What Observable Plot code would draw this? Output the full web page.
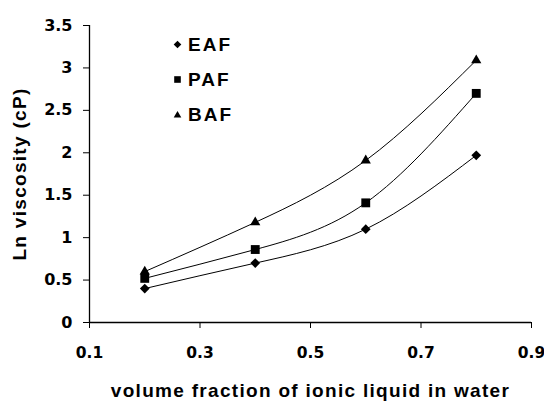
<!DOCTYPE html>
<html><head><meta charset="utf-8">
<script src="https://cdn.jsdelivr.net/npm/d3@7"></script>
<script src="https://cdn.jsdelivr.net/npm/@observablehq/plot@0.6"></script>
<style>
body{margin:0;background:#fff}
#wrap{position:relative;width:544px;height:401px;font-family:"Liberation Sans",Arial,sans-serif;font-weight:bold;color:#000}
#wrap svg text{font-weight:bold}
#wrap g[aria-label="y-axis tick label"]{font-family:"DejaVu Sans",sans-serif;font-size:16px}
#wrap g[aria-label="y-axis tick label"] text{font-family:"DejaVu Sans",sans-serif;font-size:16px;letter-spacing:0}
#wrap g[aria-label="x-axis tick label"]{font-family:"DejaVu Sans",sans-serif;font-size:15.5px}
#wrap g[aria-label="x-axis tick label"] text{font-family:"DejaVu Sans",sans-serif;font-size:15.5px;letter-spacing:0}
#wrap g[aria-label="x-axis label"] text, #wrap g[aria-label="y-axis label"] text{font-size:19px;letter-spacing:1.3px}
.leg{position:absolute;left:173px;font-size:19px;line-height:19px;letter-spacing:2px;display:flex;align-items:center}
.leg svg{margin-right:6px}
</style>
</head><body><div id="wrap"></div>
<script>
const fractions = [0.2, 0.4, 0.6, 0.8];
const eaf = [0.40, 0.70, 1.10, 1.97];
const paf = [0.52, 0.86, 1.41, 2.70];
const baf = [0.60, 1.18, 1.91, 3.09];
const seriesNames = ["EAF", "PAF", "BAF"];
const xTicks = [0.1, 0.3, 0.5, 0.7, 0.9];
const yTicks = [0, 0.5, 1, 1.5, 2, 2.5, 3, 3.5];

const seriesValues = {EAF: eaf, PAF: paf, BAF: baf};
const rows = seriesNames.flatMap(s => fractions.map((f, i) => ({x: f, y: seriesValues[s][i], s})));
const symbolOf = {EAF: "diamond2", PAF: "square", BAF: "triangle"};
const rOf = {EAF: 4.4, PAF: 5, BAF: 3.8};

const plot = Plot.plot({
  width: 544, height: 401,
  marginLeft: 89, marginRight: 13, marginTop: 25, marginBottom: 79,
  style: {fontFamily: '"Liberation Sans", Arial, sans-serif', fontWeight: "bold", fontSize: "16px", color: "#000", background: "#fff"},
  x: {domain: [0.1, 0.9]},
  y: {domain: [0, 3.5]},
  marks: [
    Plot.axisX({ticks: xTicks, tickSize: 6, tickPadding: 18, tickFormat: d => String(d), fontFamily: "DejaVu Sans",
      label: null}),
    Plot.axisX({ticks: [], tickSize: 0, label: "volume fraction of ionic liquid in water", labelAnchor: "center", labelOffset: 74, labelArrow: "none"}),
    Plot.axisY({ticks: yTicks, tickSize: 6, tickPadding: 11, tickFormat: d => String(d), fontFamily: "DejaVu Sans",
      label: null}),
    Plot.axisY({ticks: [], tickSize: 0, label: "Ln viscosity (cP)", labelAnchor: "center", labelOffset: 77, labelArrow: "none"}),
    Plot.ruleY([0], {stroke: "black", strokeWidth: 1.3}),
    Plot.ruleX([0.1], {stroke: "black", strokeWidth: 1.3}),
    Plot.line(rows, {x: "x", y: "y", z: "s", curve: "natural", stroke: "black", strokeWidth: 1}),
    ...seriesNames.map(s => Plot.dot(rows.filter(d => d.s === s), {x: "x", y: "y", symbol: () => symbolOf[s], fill: "black", stroke: "none", r: rOf[s]}))
  ]
});
const wrap = document.getElementById("wrap");
wrap.appendChild(plot);

const legendIcons = {
  EAF: '<svg width="9" height="9" viewBox="-4.5 -4.5 9 9"><path d="M0,-3.8L3.8,0L0,3.8L-3.8,0Z" fill="black"/></svg>',
  PAF: '<svg width="9" height="9" viewBox="-4.5 -4.5 9 9"><rect x="-3.3" y="-3.3" width="6.6" height="6.6" fill="black"/></svg>',
  BAF: '<svg width="9" height="9" viewBox="-4.5 -4.5 9 9"><path d="M0,-3.6L3.8,3L-3.8,3Z" fill="black"/></svg>'
};
seriesNames.forEach((s, i) => {
  const d = document.createElement("div");
  d.className = "leg";
  d.style.top = (35 + i * 35) + "px";
  d.innerHTML = legendIcons[s] + "<span>" + s + "</span>";
  wrap.appendChild(d);
});
</script>
</body></html>
